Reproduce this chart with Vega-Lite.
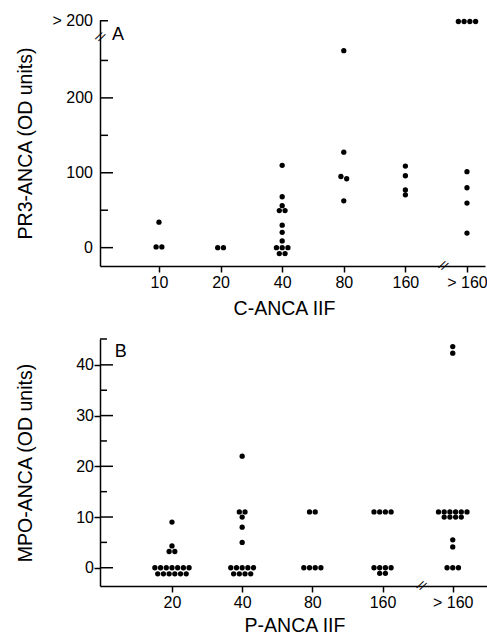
{
  "$schema": "https://vega.github.io/schema/vega-lite/v6.json",
  "padding": {"left": 14, "top": 12, "right": 0, "bottom": 0},
  "bounds": "flush",
  "spacing": 73,
  "resolve": {"scale": {"x": "independent", "y": "independent", "xOffset": "independent"}},
  "config": {
    "view": {"stroke": null},
    "font": "Liberation Sans",
    "axis": {
      "domainColor": "#000", "domainWidth": 1.5, "tickColor": "#000", "tickWidth": 1.5,
      "labelColor": "#000", "labelFontSize": 16, "labelFont": "Liberation Sans",
      "titleColor": "#000", "titleFont": "Liberation Sans", "titleFontSize": 19.5, "titleFontWeight": "normal",
      "grid": false, "labelFlush": false
    }
  },
  "datasets": {
    "a": [
      {"titre": "10", "v": 34, "k": 0},
      {"titre": "10", "v": 1, "k": -0.5},
      {"titre": "10", "v": 1, "k": 0.5},
      {"titre": "20", "v": 0, "k": -0.5},
      {"titre": "20", "v": 0, "k": 0.5},
      {"titre": "40", "v": 110, "k": 0},
      {"titre": "40", "v": 68, "k": 0},
      {"titre": "40", "v": 56, "k": 0},
      {"titre": "40", "v": 49.5, "k": -0.5},
      {"titre": "40", "v": 49.5, "k": 0.5},
      {"titre": "40", "v": 30, "k": 0},
      {"titre": "40", "v": 20.5, "k": 0},
      {"titre": "40", "v": 9, "k": 0},
      {"titre": "40", "v": 0, "k": -1},
      {"titre": "40", "v": 0, "k": 0},
      {"titre": "40", "v": 0, "k": 1},
      {"titre": "40", "v": -8, "k": -0.5},
      {"titre": "40", "v": -8, "k": 0.5},
      {"titre": "80", "v": 263, "k": 0},
      {"titre": "80", "v": 127.5, "k": 0},
      {"titre": "80", "v": 95, "k": -0.5},
      {"titre": "80", "v": 92, "k": 0.5},
      {"titre": "80", "v": 62.5, "k": 0},
      {"titre": "160", "v": 109, "k": 0},
      {"titre": "160", "v": 96, "k": 0},
      {"titre": "160", "v": 77, "k": 0},
      {"titre": "160", "v": 70.5, "k": 0},
      {"titre": "> 160", "v": 101.5, "k": 0},
      {"titre": "> 160", "v": 80, "k": 0},
      {"titre": "> 160", "v": 59.5, "k": 0},
      {"titre": "> 160", "v": 19.5, "k": 0},
      {"titre": "> 160", "v": 302, "k": -1.5},
      {"titre": "> 160", "v": 302, "k": -0.5},
      {"titre": "> 160", "v": 302, "k": 0.5},
      {"titre": "> 160", "v": 302, "k": 1.5}
    ],
    "b": [
      {"titre": "20", "v": 9, "k": 0},
      {"titre": "20", "v": 4.3, "k": 0},
      {"titre": "20", "v": 3.2, "k": -0.5},
      {"titre": "20", "v": 3.2, "k": 0.5},
      {"titre": "20", "v": 0, "k": -3},
      {"titre": "20", "v": 0, "k": -2},
      {"titre": "20", "v": 0, "k": -1},
      {"titre": "20", "v": 0, "k": 0},
      {"titre": "20", "v": 0, "k": 1},
      {"titre": "20", "v": 0, "k": 2},
      {"titre": "20", "v": 0, "k": 3},
      {"titre": "20", "v": -1.2, "k": -2.5},
      {"titre": "20", "v": -1.2, "k": -1.5},
      {"titre": "20", "v": -1.2, "k": -0.5},
      {"titre": "20", "v": -1.2, "k": 0.5},
      {"titre": "20", "v": -1.2, "k": 1.5},
      {"titre": "20", "v": -1.2, "k": 2.5},
      {"titre": "40", "v": 22, "k": 0},
      {"titre": "40", "v": 11, "k": -0.5},
      {"titre": "40", "v": 11, "k": 0.5},
      {"titre": "40", "v": 10, "k": 0},
      {"titre": "40", "v": 8, "k": 0},
      {"titre": "40", "v": 5, "k": 0},
      {"titre": "40", "v": 0, "k": -2},
      {"titre": "40", "v": 0, "k": -1},
      {"titre": "40", "v": 0, "k": 0},
      {"titre": "40", "v": 0, "k": 1},
      {"titre": "40", "v": 0, "k": 2},
      {"titre": "40", "v": -1.2, "k": -1.5},
      {"titre": "40", "v": -1.2, "k": -0.5},
      {"titre": "40", "v": -1.2, "k": 0.5},
      {"titre": "40", "v": -1.2, "k": 1.5},
      {"titre": "80", "v": 11, "k": -0.5},
      {"titre": "80", "v": 11, "k": 0.5},
      {"titre": "80", "v": 0, "k": -1.5},
      {"titre": "80", "v": 0, "k": -0.5},
      {"titre": "80", "v": 0, "k": 0.5},
      {"titre": "80", "v": 0, "k": 1.5},
      {"titre": "160", "v": 11, "k": -1.5},
      {"titre": "160", "v": 11, "k": -0.5},
      {"titre": "160", "v": 11, "k": 0.5},
      {"titre": "160", "v": 11, "k": 1.5},
      {"titre": "160", "v": 0, "k": -1.5},
      {"titre": "160", "v": 0, "k": -0.5},
      {"titre": "160", "v": 0, "k": 0.5},
      {"titre": "160", "v": 0, "k": 1.5},
      {"titre": "160", "v": -1.1, "k": -0.5},
      {"titre": "160", "v": -1.1, "k": 0.5},
      {"titre": "> 160", "v": 43.6, "k": 0},
      {"titre": "> 160", "v": 42.3, "k": 0},
      {"titre": "> 160", "v": 11, "k": -2.5},
      {"titre": "> 160", "v": 11, "k": -1.5},
      {"titre": "> 160", "v": 11, "k": -0.5},
      {"titre": "> 160", "v": 11, "k": 0.5},
      {"titre": "> 160", "v": 11, "k": 1.5},
      {"titre": "> 160", "v": 11, "k": 2.5},
      {"titre": "> 160", "v": 10, "k": -1.5},
      {"titre": "> 160", "v": 10, "k": -0.5},
      {"titre": "> 160", "v": 10, "k": 0.5},
      {"titre": "> 160", "v": 10, "k": 1.5},
      {"titre": "> 160", "v": 5.5, "k": 0},
      {"titre": "> 160", "v": 4.1, "k": 0},
      {"titre": "> 160", "v": 0, "k": -1},
      {"titre": "> 160", "v": 0, "k": 0},
      {"titre": "> 160", "v": 0, "k": 1}
    ]
  },
  "vconcat": [
    {
      "width": 385,
      "height": 246,
      "resolve": {"scale": {"x": "independent"}, "axis": {"x": "independent", "y": "independent"}},
      "layer": [
        {
          "data": {"name": "a"},
          "mark": {"type": "circle", "size": 28, "color": "#000", "opacity": 1},
          "encoding": {
            "x": {
              "field": "titre", "type": "ordinal",
              "scale": {"type": "point", "domain": ["10", "20", "40", "80", "160", "> 160"], "padding": 0.625, "align": 0.766},
              "axis": {
                "labelAngle": 0, "tickSize": 6, "labelPadding": 2,
                "title": "C-ANCA IIF", "titleX": 184, "titleY": 42, "titleBaseline": "middle"
              }
            },
            "y": {
              "field": "v", "type": "quantitative",
              "scale": {"domain": [-24.5, 304], "nice": false, "zero": false},
              "axis": {
                "orient": "left",
                "values": [0, 100, 200, 303],
                "labelExpr": "datum.value > 300 ? '> 200' : datum.label",
                "ticks": false, "labelPadding": 7.5,
                "title": "PR3-ANCA (OD units)", "titleX": -74.5, "titleY": 123, "titleAngle": -90,
                "titleBaseline": "middle", "titleAlign": "center"
              }
            },
            "xOffset": {"field": "k", "type": "quantitative", "scale": {"domain": [-3, 3], "range": [-17.25, 17.25]}}
          }
        },
        {
          "data": {"values": [{"t": 0}, {"t": 100}, {"t": 200}]},
          "mark": {"type": "rule", "color": "#000", "strokeWidth": 1.5},
          "encoding": {
            "x": {"datum": 0.042, "type": "quantitative", "scale": {"domain": [0.042, 6.29], "nice": false, "zero": false}, "axis": null},
            "x2": {"datum": 0.253},
            "y": {"field": "t", "type": "quantitative", "axis": null}
          }
        },
        {
          "data": {"values": [{"t": 50}, {"t": 150}, {"t": 250}, {"t": 303}]},
          "mark": {"type": "rule", "color": "#000", "strokeWidth": 1.5},
          "encoding": {
            "x": {"datum": 0.042, "type": "quantitative", "scale": {"domain": [0.042, 6.29], "nice": false, "zero": false}, "axis": null},
            "x2": {"datum": 0.172},
            "y": {"field": "t", "type": "quantitative", "axis": null}
          }
        },
        {
          "data": {"values": [{}]},
          "mark": {"type": "text", "text": "A", "fontSize": 18, "align": "left", "baseline": "middle", "color": "#000"},
          "encoding": {
            "x": {"datum": 0.237, "type": "quantitative", "scale": {"domain": [0.042, 6.29], "nice": false, "zero": false}, "axis": null},
            "y": {"datum": 284, "type": "quantitative", "axis": null}
          }
        },
        {
          "data": {"values": [{}]},
          "mark": {"type": "text", "text": "//", "fontSize": 13, "angle": 30, "align": "center", "baseline": "middle", "color": "#000"},
          "encoding": {
            "x": {"datum": 0.042, "type": "quantitative", "scale": {"domain": [0.042, 6.29], "nice": false, "zero": false}, "axis": null},
            "y": {"datum": 281, "type": "quantitative", "axis": null}
          }
        },
        {
          "data": {"values": [{}]},
          "mark": {"type": "text", "text": "//", "fontSize": 13, "angle": 30, "align": "center", "baseline": "middle", "color": "#000"},
          "encoding": {
            "x": {"datum": 5.61, "type": "quantitative", "scale": {"domain": [0.042, 6.29], "nice": false, "zero": false}, "axis": null},
            "y": {"datum": -24.5, "type": "quantitative", "axis": null}
          }
        }
      ]
    },
    {
      "width": 389,
      "height": 247,
      "resolve": {"scale": {"x": "independent"}, "axis": {"x": "independent", "y": "independent"}},
      "layer": [
        {
          "data": {"name": "b"},
          "mark": {"type": "circle", "size": 28, "color": "#000", "opacity": 1},
          "encoding": {
            "x": {
              "field": "titre", "type": "ordinal",
              "scale": {"type": "point", "domain": ["20", "40", "80", "160", "> 160"], "padding": 0.771, "align": 0.665},
              "axis": {
                "labelAngle": 0, "tickSize": 6, "labelPadding": 2,
                "title": "P-ANCA IIF", "titleY": 39.3, "titleBaseline": "middle"
              }
            },
            "y": {
              "field": "v", "type": "quantitative",
              "scale": {"domain": [-3.6, 45.1], "nice": false, "zero": false},
              "axis": {
                "orient": "left",
                "values": [0, 10, 20, 30, 40],
                "tickSize": 6, "labelPadding": 0.5,
                "title": "MPO-ANCA (OD units)", "titleX": -75, "titleY": 123.5, "titleAngle": -90,
                "titleBaseline": "middle", "titleAlign": "center"
              }
            },
            "xOffset": {"field": "k", "type": "quantitative", "scale": {"domain": [-3, 3], "range": [-17.1, 17.1]}}
          }
        },
        {
          "data": {"values": [{"t": 0}, {"t": 10}, {"t": 20}, {"t": 30}, {"t": 40}]},
          "mark": {"type": "rule", "color": "#000", "strokeWidth": 1.5},
          "encoding": {
            "x": {"datum": -0.026, "type": "quantitative", "scale": {"domain": [-0.026, 5.515], "nice": false, "zero": false}, "axis": null},
            "x2": {"datum": 0.159},
            "y": {"field": "t", "type": "quantitative", "axis": null}
          }
        },
        {
          "data": {"values": [{"t": 5}, {"t": 15}, {"t": 25}, {"t": 35}, {"t": 45.1}]},
          "mark": {"type": "rule", "color": "#000", "strokeWidth": 1.5},
          "encoding": {
            "x": {"datum": -0.026, "type": "quantitative", "scale": {"domain": [-0.026, 5.515], "nice": false, "zero": false}, "axis": null},
            "x2": {"datum": 0.074},
            "y": {"field": "t", "type": "quantitative", "axis": null}
          }
        },
        {
          "data": {"values": [{}]},
          "mark": {"type": "text", "text": "B", "fontSize": 18, "align": "left", "baseline": "middle", "color": "#000"},
          "encoding": {
            "x": {"datum": 0.183, "type": "quantitative", "scale": {"domain": [-0.026, 5.515], "nice": false, "zero": false}, "axis": null},
            "y": {"datum": 42.6, "type": "quantitative", "axis": null}
          }
        },
        {
          "data": {"values": [{}]},
          "mark": {"type": "text", "text": "//", "fontSize": 13, "angle": 30, "align": "center", "baseline": "middle", "color": "#000"},
          "encoding": {
            "x": {"datum": 4.55, "type": "quantitative", "scale": {"domain": [-0.026, 5.515], "nice": false, "zero": false}, "axis": null},
            "y": {"datum": -3.6, "type": "quantitative", "axis": null}
          }
        }
      ]
    }
  ]
}
